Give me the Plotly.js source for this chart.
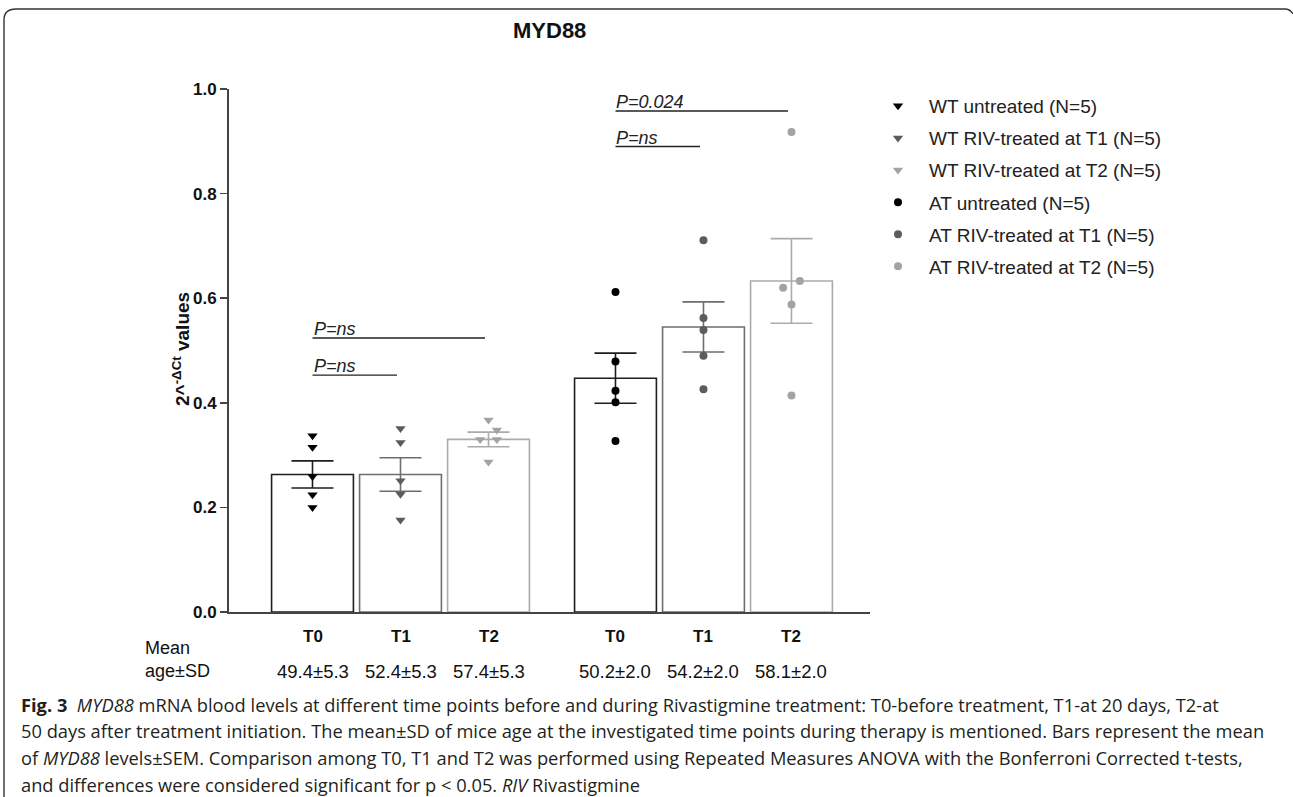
<!DOCTYPE html>
<html>
<head>
<meta charset="utf-8">
<script src="https://cdn.plot.ly/plotly-3.0.1.min.js"></script>
<style>
html,body{margin:0;padding:0;background:#fff;}
#chart{width:1293px;height:797px;}
</style>
</head>
<body>
<div id="chart"></div>
<script>
// ---------------- DATA ----------------
const groups = ['WT', 'AT'];
const timepoints = ['T0', 'T1', 'T2'];
const seriesNames = [
  'WT untreated (N=5)', 'WT RIV-treated at T1 (N=5)', 'WT RIV-treated at T2 (N=5)',
  'AT untreated (N=5)', 'AT RIV-treated at T1 (N=5)', 'AT RIV-treated at T2 (N=5)'
];
const means = [0.263, 0.263, 0.330, 0.447, 0.545, 0.633];
const sem   = [0.026, 0.032, 0.014, 0.048, 0.048, 0.081];
const wtT0 = [0.337, 0.315, 0.259, 0.224, 0.200];
const wtT1 = [0.351, 0.324, 0.251, 0.225, 0.176];
const wtT2 = [0.367, 0.348, 0.330, 0.330, 0.287];
const atT0 = [0.612, 0.479, 0.423, 0.401, 0.327];
const atT1 = [0.711, 0.562, 0.539, 0.490, 0.426];
const atT2 = [0.918, 0.633, 0.620, 0.588, 0.414];
const jitterWtT2 = [0, 1, -1, 1, 0];
const jitterAtT2 = [0, 1, -1, 0, 0];
const ageLabels = ['49.4±5.3', '52.4±5.3', '57.4±5.3', '50.2±2.0', '54.2±2.0', '58.1±2.0'];
const sigTests = [
  {from: 0, to: 1, y: 0.453, label: 'P=ns'},
  {from: 0, to: 2, y: 0.524, label: 'P=ns'},
  {from: 3, to: 4, y: 0.890, label: 'P=ns'},
  {from: 3, to: 5, y: 0.958, label: 'P=0.024'}
];
const captionLines = [
  '<b>Fig. 3</b>  <i>MYD88</i> mRNA blood levels at different time points before and during Rivastigmine treatment: T0-before treatment, T1-at 20 days, T2-at',
  '50 days after treatment initiation. The mean±SD of mice age at the investigated time points during therapy is mentioned. Bars represent the mean',
  'of <i>MYD88</i> levels±SEM. Comparison among T0, T1 and T2 was performed using Repeated Measures ANOVA with the Bonferroni Corrected t-tests,',
  'and differences were considered significant for p &lt; 0.05. <i>RIV</i> Rivastigmine'
];

// ---------------- LAYOUT HELPERS ----------------
const W = 1293, H = 797;
const L = 229, R = 870, T = 89, B = 612;
const PW = R - L, PH = B - T;
const px = x => (x - L) / PW;
const py = y => 1 - (y - T) / PH;

const groupGap = 1.443;
const xpos = [];
groups.forEach((g, gi) => timepoints.forEach((t, ti) => xpos.push(gi * (timepoints.length + groupGap - 1) + ti)));
const pointSets = [wtT0, wtT1, wtT2, atT0, atT1, atT2];
const jitters = [null, null, jitterWtT2, null, null, jitterAtT2];
const jitterStep = 0.095;

const markerColors = ['#000000', '#5c5c5c', '#a3a3a3', '#000000', '#5c5c5c', '#a3a3a3'];
const barColors = ['#1e1e1e', '#6e6e6e', '#ababab', '#1e1e1e', '#6e6e6e', '#ababab'];
const symbols = ['triangle-down', 'triangle-down', 'triangle-down', 'circle', 'circle', 'circle'];

const traces = [];
means.forEach((m, i) => {
  traces.push({
    type: 'bar', x: [xpos[i]], y: [m], width: 0.93, showlegend: false, hoverinfo: 'skip',
    marker: {color: '#ffffff', line: {color: barColors[i], width: 1.6}},
    error_y: {type: 'data', array: [sem[i]], visible: true, color: barColors[i], thickness: 1.6, width: 21}
  });
});
pointSets.forEach((vals, i) => {
  traces.push({
    type: 'scatter', mode: 'markers', name: seriesNames[i], legendgroup: 'g' + i,
    x: vals.map((v, k) => xpos[i] + (jitters[i] ? jitters[i][k] * jitterStep : 0)),
    y: vals,
    marker: {symbol: symbols[i], color: markerColors[i], size: symbols[i] === 'circle' ? 8 : 9, line: {width: 0}},
    hoverinfo: 'y'
  });
});

const annotations = [];
const shapes = [];
const arial = 'Liberation Sans, Arial, sans-serif';
annotations.push({xref: 'paper', yref: 'paper', x: px(549), y: py(30), text: '<b>MYD88</b>', showarrow: false,
  font: {family: arial, size: 22, color: '#111'}, xanchor: 'center', yanchor: 'middle'});
annotations.push({xref: 'paper', yref: 'paper', x: px(181), y: py(349), text: '<b>2^<sup>-ΔCt</sup> values</b>', showarrow: false,
  textangle: -90, font: {family: arial, size: 19, color: '#111'}, xanchor: 'center', yanchor: 'middle'});
xpos.forEach((xp, i) => {
  annotations.push({xref: 'x', yref: 'paper', x: xp, y: py(636), text: '<b>' + timepoints[i % 3] + '</b>', showarrow: false,
    font: {family: arial, size: 17, color: '#111'}, xanchor: 'center', yanchor: 'middle'});
  annotations.push({xref: 'x', yref: 'paper', x: xp, y: py(671), text: ageLabels[i], showarrow: false,
    font: {family: arial, size: 18.5, color: '#111'}, xanchor: 'center', yanchor: 'middle'});
});
annotations.push({xref: 'paper', yref: 'paper', x: px(143), y: py(648), text: 'Mean', showarrow: false,
  font: {family: arial, size: 18, color: '#111'}, xanchor: 'left', yanchor: 'middle'});
annotations.push({xref: 'paper', yref: 'paper', x: px(143), y: py(671), text: 'age±SD', showarrow: false,
  font: {family: arial, size: 18, color: '#111'}, xanchor: 'left', yanchor: 'middle'});
sigTests.forEach(s => {
  shapes.push({type: 'line', xref: 'x', yref: 'y', x0: xpos[s.from], x1: xpos[s.to] - 0.04, y0: s.y, y1: s.y,
    line: {color: '#222', width: 1.4}});
  annotations.push({xref: 'x', yref: 'y', x: xpos[s.from], y: s.y, text: '<i>' + s.label + '</i>', showarrow: false,
    font: {family: arial, size: 18, color: '#222'}, xanchor: 'left', yanchor: 'bottom', borderpad: 0, yshift: -2});
});
const capY = [704, 730, 757, 784];
captionLines.forEach((txt, i) => {
  annotations.push({xref: 'paper', yref: 'paper', x: px(19), y: py(capY[i]), text: txt, showarrow: false,
    font: {family: 'Open Sans, Noto Sans, sans-serif', size: 18.3, color: '#231f20'}, xanchor: 'left', yanchor: 'middle', align: 'left'});
});
shapes.push({type: 'path', xref: 'paper', yref: 'paper',
  path: `M ${px(4)},${py(797)} L ${px(4)},${py(20)} Q ${px(4)},${py(9)} ${px(16)},${py(9)} L ${px(1285)},${py(9)} Q ${px(1290)},${py(9)} ${px(1293)},${py(14)}`,
  line: {color: '#333', width: 1.4}});

const layout = {
  width: W, height: H,
  margin: {l: L, r: W - R, t: T, b: H - B, pad: 0},
  paper_bgcolor: '#fff', plot_bgcolor: '#fff',
  showlegend: true,
  legend: {x: px(867), y: py(87), xanchor: 'left', yanchor: 'top', tracegroupgap: 4.4, itemwidth: 52,
    font: {family: arial, size: 19, color: '#222'}, bgcolor: 'rgba(0,0,0,0)'},
  xaxis: {range: [(L - 312.5) / 88, (R - 312.5) / 88], showgrid: false, zeroline: false, showline: true,
    linecolor: '#444', linewidth: 2, ticks: '', showticklabels: false, fixedrange: true},
  yaxis: {range: [0, 1], showgrid: false, zeroline: false, showline: true, linecolor: '#444', linewidth: 2,
    ticks: 'outside', ticklen: 7, tickwidth: 1.5, tickcolor: '#444', tickvals: [0, 0.2, 0.4, 0.6, 0.8, 1.0],
    tickformat: '.1f', tickfont: {family: arial, size: 17, color: '#111', weight: 'bold'}, fixedrange: true},
  annotations: annotations,
  shapes: shapes,
  barmode: 'overlay'
};

Plotly.newPlot('chart', traces, layout, {displayModeBar: false, staticPlot: true});
</script>
</body>
</html>
